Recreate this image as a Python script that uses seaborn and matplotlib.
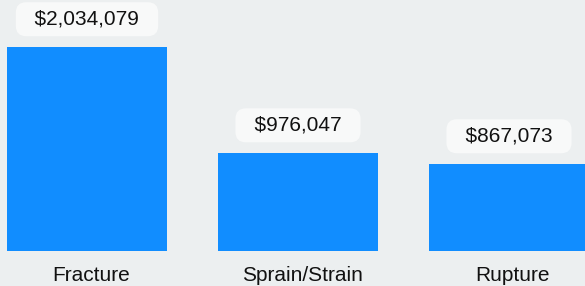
import matplotlib.pyplot as plt
import matplotlib.transforms as mtransforms
import seaborn as sns
import pandas as pd

# datos del grafico
categorias = ['Fracture', 'Sprain/Strain', 'Rupture']
montos = [2034079, 976047, 867073]

df = pd.DataFrame({'Categoria': categorias, 'Monto': montos})

sns.set_style('white')
plt.rcParams['font.family'] = ['Liberation Sans', 'DejaVu Sans']

fondo = '#eceff0'
azul = '#118dff'

fig = plt.figure(figsize=(5.85, 2.86), dpi=100)
fig.patch.set_facecolor(fondo)
# ejes ocupan todo el ancho, base de barras a 35 px del borde inferior
ax = fig.add_axes([0, 35 / 286, 1, 251 / 286])
ax.set_facecolor(fondo)

sns.barplot(data=df, x='Categoria', y='Monto', color=azul, width=160 / 211,
            saturation=1, linewidth=0, ax=ax)

ax.set_xlim(-87 / 211, (585 - 87) / 211)
ax.set_ylim(0, max(montos) * 251 / 204)

for s in ax.spines.values():
    s.set_visible(False)
ax.set_yticks([])
ax.set_xlabel('')
ax.set_ylabel('')
ax.tick_params(axis='x', length=0, pad=10.5, labelsize=15, labelcolor='#111111')

# desplazar etiquetas un poco a la derecha
desplazamiento = mtransforms.ScaledTranslation(4 / 100, 0, fig.dpi_scale_trans)
for lbl in ax.get_xticklabels():
    lbl.set_transform(lbl.get_transform() + desplazamiento)

# etiquetas de valores en cajas redondeadas
for i, v in enumerate(montos):
    ax.annotate('  ${:,}  '.format(v), xy=(i, v), xytext=(0, 20),
                textcoords='offset points', ha='center', va='center',
                fontsize=15, color='#111111',
                bbox=dict(boxstyle='round,pad=0.36,rounding_size=0.5',
                          fc='#f8f9f9', ec='none'))

plt.savefig('out.png', dpi=100, facecolor=fondo)
